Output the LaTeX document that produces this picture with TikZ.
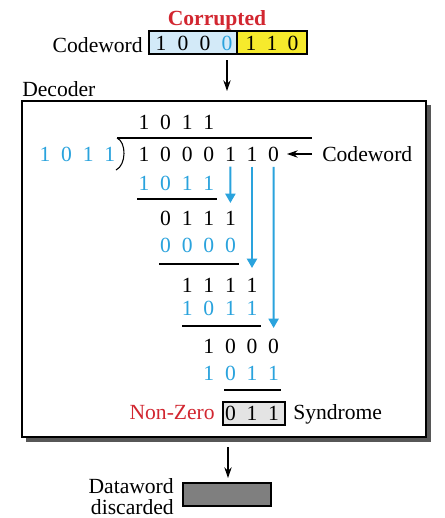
\documentclass[tikz,border=0pt]{standalone}
\usepackage{fontspec}
\setmainfont{Liberation Serif}
\usetikzlibrary{arrows.meta}
\definecolor{cblue}{HTML}{2AA3DD}
\definecolor{lblue}{HTML}{D3EAF8}
\definecolor{cyel}{HTML}{F6EA2C}
\definecolor{cred}{HTML}{D22630}
\definecolor{sgray}{HTML}{E4E4E4}
\definecolor{dgray}{HTML}{7F7F7F}
\definecolor{shad}{HTML}{575757}
\begin{document}
\begin{tikzpicture}[x=0.75pt,y=-0.75pt,
  font=\fontsize{16.2}{19}\selectfont,
  dig/.style={inner sep=0pt, anchor=center},
  bdig/.style={dig, text=cblue},
  rule/.style={line width=0.8pt},
  blackarrow/.style={line width=0.9pt, -{Stealth[length=8pt,width=5.5pt]}},
  bluearrow/.style={draw=cblue, line width=1.6pt, -{Triangle[length=7pt,width=7.5pt]}},
  lbl/.style={inner sep=0pt}]
\useasboundingbox (0,0) rectangle (444,518);

% top codeword
\node[lbl, text=cred, font=\fontsize{16.2}{19}\selectfont\bfseries, anchor=base] (corr) at (217,25) {Corrupted};
\node[lbl, anchor=base east] (cwlbl) at (143,52) {Codeword};
\draw[fill=lblue, line width=0.8pt] (149,31) rectangle (237,54);
\draw[fill=cyel, line width=0.8pt] (237,31) rectangle (307,54);
\foreach \d/\x/\c [count=\i] in {1/161/black,0/183/black,0/205/black,0/227/cblue,1/251/black,1/272/black,0/293/black}
  \node[dig, text=\c] (cw\i) at (\x,43) {\d};
\coordinate (cwout) at (227,60);
\coordinate (decin) at (227,91);
\draw[blackarrow] (cwout) -- (decin);

% decoder box
\node[lbl, anchor=base west] (declbl) at (22,96) {Decoder};
\fill[shad] (26,105) rectangle (431,442);
\draw[fill=white, line width=0.9pt] (22,101) rectangle (426,437);

% quotient
\foreach \d [count=\i from 0] in {1,0,1,1}
  \node[dig] (q\i) at ({144+21.6*\i},122) {\d};
\draw[rule] (117,138) -- (312,138);
\draw[rule] (117,138) .. controls (126.5,142) and (126.5,165) .. (116,170);
% divisor
\foreach \d [count=\i from 0] in {1,0,1,1}
  \node[bdig] (dv\i) at ({45+21.6*\i},154) {\d};
% dividend
\foreach \d [count=\i from 0] in {1,0,0,0,1,1,0}
  \node[dig] (dd\i) at ({144+21.6*\i},154) {\d};
\node[lbl, anchor=base west] (cwr) at (322,161) {Codeword};
\coordinate (cwa1) at (312,154);
\coordinate (cwa2) at (287,154);
\draw[blackarrow] (cwa1) -- (cwa2);
% step 1
\foreach \d [count=\i from 0] in {1,0,1,1}
  \node[bdig] (s1\i) at ({144+21.6*\i},183) {\d};
\draw[rule] (137,199) -- (217,199);
\foreach \d [count=\i from 1] in {0,1,1,1}
  \node[dig] (r2\i) at ({144+21.6*\i},218) {\d};
\foreach \d [count=\i from 1] in {0,0,0,0}
  \node[bdig] (s2\i) at ({144+21.6*\i},245) {\d};
\draw[rule] (159,264) -- (239,264);
\foreach \d [count=\i from 2] in {1,1,1,1}
  \node[dig] (r3\i) at ({144+21.6*\i},285) {\d};
\foreach \d [count=\i from 2] in {1,0,1,1}
  \node[bdig] (s3\i) at ({144+21.6*\i},308) {\d};
\draw[rule] (182,326) -- (261,326);
\foreach \d [count=\i from 3] in {1,0,0,0}
  \node[dig] (r4\i) at ({144+21.6*\i},346) {\d};
\foreach \d [count=\i from 3] in {1,0,1,1}
  \node[bdig] (s4\i) at ({144+21.6*\i},373) {\d};
\draw[rule] (224,390) -- (281,390);

% blue arrows
\coordinate (a1e) at (230.4,203);
\coordinate (a2e) at (252,268);
\coordinate (a3e) at (273.6,328);
\draw[bluearrow] ([yshift=-4pt]dd4.south) -- (a1e);
\draw[bluearrow] ([yshift=-4pt]dd5.south) -- (a2e);
\draw[bluearrow] ([yshift=-4pt]dd6.south) -- (a3e);

% syndrome
\draw[fill=sgray, line width=0.8pt] (223,402) rectangle (285,425);
\foreach \d [count=\i from 4] in {0,1,1}
  \node[dig] (sy\i) at ({144+21.6*\i},413) {\d};
\node[lbl, anchor=base east, text=cred] (nz) at (215,419) {Non-Zero};
\node[lbl, anchor=base west] (syn) at (293,419) {Syndrome};

% output
\coordinate (decout) at (228,447);
\coordinate (dwin) at (228,478);
\draw[blackarrow] (decout) -- (dwin);
\draw[fill=dgray, line width=0.8pt] (183,483) rectangle (271,506);
\node[lbl, anchor=base east] (dw1) at (174,493) {Dataword};
\node[lbl, anchor=base east] (dw2) at (174,514) {discarded};
\end{tikzpicture}
\end{document}
